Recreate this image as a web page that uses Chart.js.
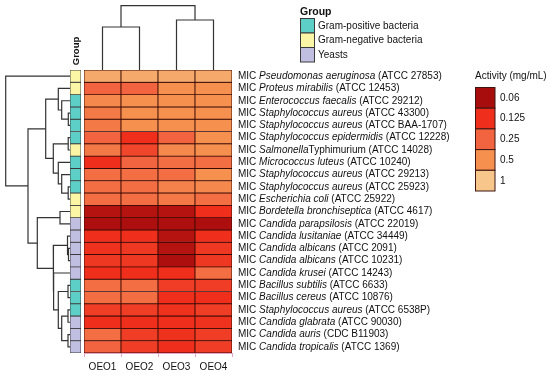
<!DOCTYPE html>
<html>
<head>
<meta charset="utf-8">
<script src="https://cdn.jsdelivr.net/npm/chart.js@4.4.0/dist/chart.umd.min.js"></script>
<style>
body { margin: 0; background: #fff; }
#wrap { position: relative; width: 550px; height: 382px; }
#wrap canvas { position: absolute; left: 0; top: 0; }
</style>
</head>
<body>
<div id="wrap">
  <canvas id="heat" width="550" height="382"></canvas>
  <canvas id="grp" width="550" height="382"></canvas>
  <canvas id="dendL" width="550" height="382"></canvas>
  <canvas id="dendT" width="550" height="382"></canvas>
</div>
<script>
const FONT = "'Liberation Sans', Arial, sans-serif";
Chart.defaults.font.family = FONT;
Chart.defaults.animation = false;

// columns and rows of the heatmap
const columns = ['OEO1', 'OEO2', 'OEO3', 'OEO4'];
const rowSpecies = ['Pseudomonas aeruginosa', 'Proteus mirabilis', 'Enterococcus faecalis',
  'Staphylococcus aureus', 'Staphylococcus aureus', 'Staphylococcus epidermidis', 'Salmonella',
  'Micrococcus luteus', 'Staphylococcus aureus', 'Staphylococcus aureus', 'Escherichia coli',
  'Bordetella bronchiseptica', 'Candida parapsilosis', 'Candida lusitaniae', 'Candida albicans',
  'Candida albicans', 'Candida krusei', 'Bacillus subtilis', 'Bacillus cereus',
  'Staphylococcus aureus', 'Candida glabrata', 'Candida auris', 'Candida tropicalis'];
const rowStrain = [' (ATCC 27853)', ' (ATCC 12453)', ' (ATCC 29212)', ' (ATCC 43300)',
  ' (ATCC BAA-1707)', ' (ATCC 12228)', 'Typhimurium (ATCC 14028)', ' (ATCC 10240)',
  ' (ATCC 29213)', ' (ATCC 25923)', ' (ATCC 25922)', ' (ATCC 4617)', ' (ATCC 22019)',
  ' (ATCC 34449)', ' (ATCC 2091)', ' (ATCC 10231)', ' (ATCC 14243)', ' (ATCC 6633)',
  ' (ATCC 10876)', ' (ATCC 6538P)', ' (ATCC 90030)', ' (CDC B11903)', ' (ATCC 1369)'];
const rowGroup = ['neg', 'neg', 'pos', 'pos', 'pos', 'pos', 'neg', 'pos', 'pos', 'pos', 'neg',
  'neg', 'yeast', 'yeast', 'yeast', 'yeast', 'yeast', 'pos', 'pos', 'pos', 'yeast', 'yeast', 'yeast'];

// MIC values (mg/mL) per oil, one per row
const oeo1 = [0.7, 0.25, 0.45, 0.35, 0.35, 0.25, 0.35, 0.125, 0.3, 0.3, 0.3, 0.07, 0.065,
  0.125, 0.13, 0.14, 0.125, 0.3, 0.3, 0.15, 0.125, 0.3, 0.25];
const oeo2 = [0.7, 0.25, 0.5, 0.5, 0.5, 0.125, 0.17, 0.25, 0.3, 0.3, 0.3, 0.07, 0.065,
  0.125, 0.14, 0.14, 0.125, 0.3, 0.3, 0.15, 0.125, 0.15, 0.15];
const oeo3 = [0.7, 0.5, 0.5, 0.5, 0.5, 0.25, 0.45, 0.3, 0.3, 0.4, 0.35, 0.07, 0.065,
  0.07, 0.07, 0.065, 0.125, 0.15, 0.125, 0.13, 0.125, 0.13, 0.125];
const oeo4 = [0.7, 0.5, 0.5, 0.5, 0.5, 0.5, 0.5, 0.3, 0.5, 0.45, 0.3, 0.125, 0.065,
  0.125, 0.14, 0.14, 0.3, 0.15, 0.125, 0.15, 0.13, 0.15, 0.15];
const series = [oeo1, oeo2, oeo3, oeo4];

// colour key
const activityLevels = [0.0625, 0.125, 0.25, 0.5, 1];
const activityLabels = ['0.06', '0.125', '0.25', '0.5', '1'];
const activityColors = ['#a80d0d', '#ef2f1c', '#f2633f', '#f5904f', '#f6c68b'];
const groupKeys = ['pos', 'neg', 'yeast'];
const groupNames = ['Gram-positive bacteria', 'Gram-negative bacteria', 'Yeasts'];
const groupColors = { pos: '#5ecfc7', neg: '#faf6a6', yeast: '#c1bfe1' };

// row dendrogram (hclust style: negative = leaf row, positive = earlier merge)
const rowMerges = [[-4, -5], [-3, 1], [-2, 2], [-6, -7], [-10, -11], [-9, 5], [-8, 6], [4, 7],
  [3, 8], [-12, -13], [-15, -16], [-14, 11], [-18, -19], [-20, -21], [-22, -23], [14, 15],
  [13, 16], [-17, 17], [12, 18], [10, 19], [9, 20], [-1, 21]];
const rowHeights = [1.7, 8.3, 11.7, 1.8, 1.8, 8.3, 11.7, 16.7, 24.3, 10, 1.5, 2.5, 2, 2, 2, 8.3,
  11.7, 16.4, 16.7, 32.7, 42, 64.3];
// column dendrogram
const colMerges = [[-1, -2], [-3, -4], [1, 2]];
const colHeights = [43, 50, 64.3];

function hexRgb(h) { return [1, 3, 5].map(i => parseInt(h.substr(i, 2), 16)); }

function cellColor(v) {
  const L = activityLevels.map(Math.log2);
  const t = Math.log2(v);
  if (t <= L[0]) return activityColors[0];
  if (t >= L[L.length - 1]) return activityColors[L.length - 1];
  let i = 0;
  while (t > L[i + 1]) i++;
  const f = (t - L[i]) / (L[i + 1] - L[i]);
  const a = hexRgb(activityColors[i]), b = hexRgb(activityColors[i + 1]);
  return 'rgb(' + a.map((c, k) => Math.round(c + (b[k] - c) * f)).join(',') + ')';
}

function dendroPaths(merges, heights) {
  const nodes = [];
  const node = id => id < 0 ? { p: -id - 0.5, h: 0 } : nodes[id - 1];
  return merges.map(([a, b], i) => {
    const A = node(a), B = node(b), h = heights[i];
    nodes.push({ p: (A.p + B.p) / 2, h: h });
    return [A, { p: A.p, h: h }, { p: B.p, h: h }, B];
  });
}

const rowLabels = {
  id: 'rowLabels',
  afterDraw(chart) {
    const { ctx, chartArea, scales } = chart;
    ctx.save();
    ctx.fillStyle = '#111';
    ctx.textBaseline = 'middle';
    rowSpecies.forEach((sp, r) => {
      const yy = scales.y.getPixelForValue(r + 0.5);
      let xx = chartArea.right + 6;
      [['MIC ', ''], [sp, 'italic '], [rowStrain[r], '']].forEach(([t, st]) => {
        ctx.font = st + '10px ' + FONT;
        ctx.fillText(t, xx, yy);
        xx += ctx.measureText(t).width;
      });
    });
    ctx.restore();
  }
};

const keys = {
  id: 'keys',
  afterDraw(chart) {
    const ctx = chart.ctx;
    ctx.save();
    ctx.textBaseline = 'middle';
    ctx.fillStyle = '#111';
    ctx.font = 'bold 10.5px ' + FONT;
    ctx.fillText('Group', 300, 12);
    ctx.font = '10px ' + FONT;
    groupKeys.forEach((g, i) => {
      const y0 = 18.5 + i * 14.5;
      ctx.fillStyle = groupColors[g];
      ctx.fillRect(300, y0, 15, 14.5);
      ctx.strokeStyle = '#3a3a3a';
      ctx.lineWidth = 1;
      ctx.strokeRect(300.5, y0, 14, 14.5);
      ctx.fillStyle = '#111';
      ctx.fillText(groupNames[i], 318, y0 + 7.5);
    });
    ctx.fillText('Activity (mg/mL)', 475, 76);
    activityLevels.forEach((lv, i) => {
      const y0 = 87.5 + i * 20.7;
      ctx.fillStyle = cellColor(lv);
      ctx.fillRect(475, y0, 20, 20.7);
      ctx.strokeStyle = '#3d1410';
      ctx.strokeRect(475.5, y0, 19.5, 20.7);
      ctx.fillStyle = '#111';
      ctx.fillText(activityLabels[i], 500, y0 + 10.5);
    });
    ctx.restore();
  }
};

const heat = new Chart(document.getElementById('heat'), {
  type: 'bar',
  data: {
    labels: columns,
    datasets: rowSpecies.map((sp, r) => ({
      label: 'MIC ' + sp + rowStrain[r],
      data: columns.map(() => 1),
      backgroundColor: series.map(col => cellColor(col[r])),
      borderColor: '#3a0b06',
      borderWidth: 0.8,
      borderSkipped: false,
      barPercentage: 1,
      categoryPercentage: 1
    }))
  },
  options: {
    responsive: false,
    layout: { padding: { left: 84, right: 318, top: 70, bottom: 5 } },
    plugins: { legend: { display: false }, tooltip: { enabled: false } },
    scales: {
      x: {
        stacked: true,
        grid: { display: true, drawOnChartArea: false, tickLength: 4, color: '#e3a6c7' },
        border: { color: '#e3a6c7' },
        ticks: { font: { size: 10 }, color: '#111', padding: 4 }
      },
      y: { stacked: true, min: 0, max: 23, reverse: true, display: false }
    }
  },
  plugins: [rowLabels, keys]
});

const area = heat.chartArea;

const groupTitle = {
  id: 'groupTitle',
  afterDraw(chart) {
    const { ctx, chartArea } = chart;
    ctx.save();
    ctx.translate((chartArea.left + chartArea.right) / 2 + 0.5, chartArea.top - 19);
    ctx.rotate(-Math.PI / 2);
    ctx.font = 'bold 9.5px ' + FONT;
    ctx.fillStyle = '#111';
    ctx.textAlign = 'center';
    ctx.textBaseline = 'middle';
    ctx.fillText('Group', 0, 0);
    ctx.restore();
  }
};

new Chart(document.getElementById('grp'), {
  type: 'bar',
  data: {
    labels: ['Group'],
    datasets: rowGroup.map(g => ({
      data: [1],
      backgroundColor: groupColors[g],
      borderColor: '#3a3a3a',
      borderWidth: 0.8,
      borderSkipped: false,
      barPercentage: 1,
      categoryPercentage: 1
    }))
  },
  options: {
    responsive: false,
    layout: { padding: { left: 70, right: 469, top: area.top, bottom: 382 - area.bottom } },
    plugins: { legend: { display: false }, tooltip: { enabled: false } },
    scales: {
      x: { display: false, stacked: true },
      y: { display: false, stacked: true, min: 0, max: 23, reverse: true }
    }
  },
  plugins: [groupTitle]
});

const lineStyle = { showLine: true, pointRadius: 0, borderColor: '#333', borderWidth: 1.2, tension: 0, fill: false };

new Chart(document.getElementById('dendL'), {
  type: 'scatter',
  data: {
    datasets: dendroPaths(rowMerges, rowHeights).map(path => Object.assign({
      data: path.map(n => ({ x: n.h, y: n.p }))
    }, lineStyle))
  },
  options: {
    responsive: false,
    layout: { padding: { left: 0, right: 480, top: area.top, bottom: 382 - area.bottom } },
    plugins: { legend: { display: false }, tooltip: { enabled: false } },
    scales: {
      x: { display: false, min: 0, max: 70, reverse: true },
      y: { display: false, min: 0, max: 23, reverse: true }
    }
  }
});

new Chart(document.getElementById('dendT'), {
  type: 'scatter',
  data: {
    datasets: dendroPaths(colMerges, colHeights).map(path => Object.assign({
      data: path.map(n => ({ x: n.p, y: n.h }))
    }, lineStyle))
  },
  options: {
    responsive: false,
    layout: { padding: { left: area.left, right: 550 - area.right, top: 0, bottom: 382 - area.top } },
    plugins: { legend: { display: false }, tooltip: { enabled: false } },
    scales: {
      x: { display: false, min: 0, max: 4 },
      y: { display: false, min: 0, max: 70 }
    }
  }
});
</script>
</body>
</html>
